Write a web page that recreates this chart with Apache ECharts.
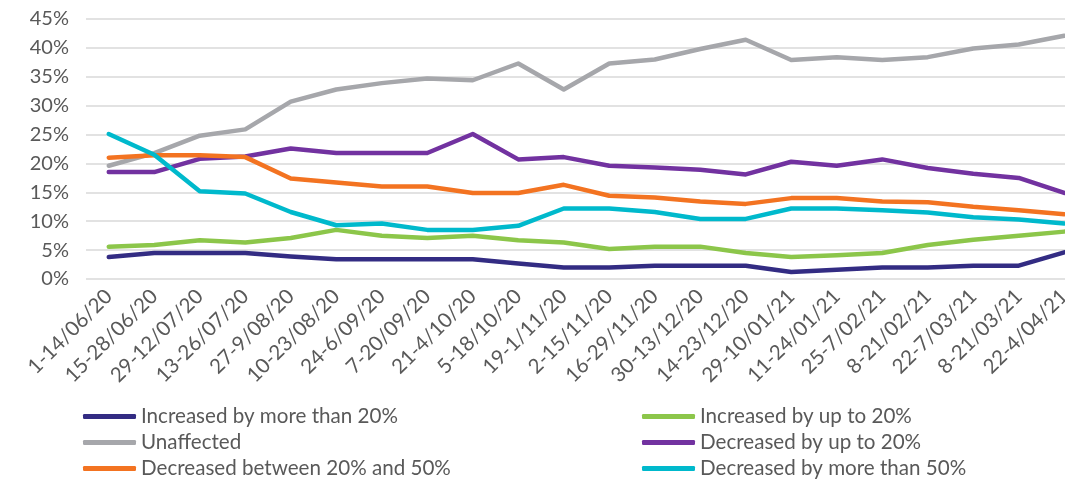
<!DOCTYPE html>
<html>
<head>
<meta charset="utf-8">
<script src="https://cdn.jsdelivr.net/npm/echarts@6/dist/echarts.min.js"></script>
<style>
  html, body { margin: 0; padding: 0; background: #fff; overflow: hidden; }
  /* wider than the window: the last band is cut off like in the source */
  #chart { width: 1087px; height: 479px; }
</style>
</head>
<body>
<div id="chart"></div>
<script>
var periods = [
  "1-14/06/20", "15-28/06/20", "29-12/07/20", "13-26/07/20", "27-9/08/20",
  "10-23/08/20", "24-6/09/20", "7-20/09/20", "21-4/10/20", "5-18/10/20",
  "19-1/11/20", "2-15/11/20", "16-29/11/20", "30-13/12/20", "14-23/12/20",
  "29-10/01/21", "11-24/01/21", "25-7/02/21", "8-21/02/21", "22-7/03/21",
  "8-21/03/21", "22-4/04/21"
];

var incMore20 = [3.8, 4.5, 4.5, 4.5, 3.9, 3.4, 3.4, 3.4, 3.4, 2.7, 2.0, 2.0, 2.3, 2.3, 2.3, 1.2, 1.6, 2.0, 2.0, 2.3, 2.3, 4.6];
var incUpTo20 = [5.6, 5.9, 6.7, 6.3, 7.1, 8.5, 7.5, 7.1, 7.5, 6.7, 6.3, 5.2, 5.6, 5.6, 4.5, 3.8, 4.1, 4.5, 5.9, 6.8, 7.5, 8.2];
var unaffected = [19.6, 21.8, 24.8, 25.9, 30.7, 32.8, 33.9, 34.7, 34.4, 37.3, 32.8, 37.3, 38.0, 39.8, 41.4, 37.9, 38.4, 37.9, 38.4, 39.9, 40.6, 42.1];
var decUpTo20 = [18.5, 18.5, 20.8, 21.2, 22.6, 21.8, 21.8, 21.8, 25.1, 20.7, 21.1, 19.6, 19.3, 18.9, 18.1, 20.3, 19.6, 20.7, 19.2, 18.2, 17.5, 14.9];
var dec20to50 = [21.0, 21.4, 21.4, 21.1, 17.4, 16.7, 16.0, 16.0, 14.9, 14.9, 16.3, 14.4, 14.1, 13.4, 13.0, 14.0, 14.0, 13.4, 13.3, 12.5, 11.9, 11.2];
var decMore50 = [25.1, 21.5, 15.2, 14.8, 11.6, 9.3, 9.6, 8.5, 8.5, 9.2, 12.2, 12.2, 11.6, 10.4, 10.4, 12.2, 12.2, 11.9, 11.5, 10.7, 10.3, 9.6];

var yTicks = [0, 5, 10, 15, 20, 25, 30, 35, 40, 45];

var seriesNames = [
  "Increased by more than 20%", "Increased by up to 20%", "Unaffected",
  "Decreased by up to 20%", "Decreased between 20% and 50%", "Decreased by more than 50%"
];
var seriesData = [incMore20, incUpTo20, unaffected, decUpTo20, dec20to50, decMore50];
var seriesColors = ["#332c83", "#8cc64a", "#a6a7ab", "#7232a0", "#f37321", "#00b9cc"];

var textColor = "#595959";
var fontFam = "Lato, 'Open Sans', sans-serif";

var legendBase = {
  orient: "vertical",
  top: 406,
  itemWidth: 53,
  itemHeight: 5,
  itemGap: 5,
  icon: "roundRect",
  padding: 0,
  textStyle: { color: textColor, fontSize: 20.6, fontFamily: fontFam, lineHeight: 20 }
};

var option = {
  backgroundColor: "#fff",
  animation: false,
  legend: [
    Object.assign({}, legendBase, { left: 83, data: [seriesNames[0], seriesNames[2], seriesNames[4]] }),
    Object.assign({}, legendBase, { left: 642, data: [seriesNames[1], seriesNames[3], seriesNames[5]] })
  ],
  grid: {
    left: 86,
    top: 19,
    right: 0,
    height: 260,
    containLabel: false
  },
  xAxis: {
    type: "category",
    data: periods,
    boundaryGap: true,
    axisTick: { show: false },
    axisLine: { show: false },
    axisLabel: {
      interval: 0,
      rotate: 45,
      margin: 14,
      color: textColor,
      fontSize: 20.5,
      fontFamily: fontFam
    }
  },
  yAxis: {
    type: "value",
    min: yTicks[0],
    max: yTicks[yTicks.length - 1],
    interval: 5,
    axisTick: { show: false },
    axisLine: { show: false },
    axisLabel: {
      margin: 17,
      color: textColor,
      fontSize: 20,
      fontFamily: fontFam,
      formatter: "{value}%"
    },
    splitLine: {
      show: true,
      lineStyle: { color: "#d9d9d9", width: 1.5 }
    }
  },
  series: seriesNames.map(function (name, i) {
    return {
      name: name,
      type: "line",
      symbol: "none",
      data: seriesData[i],
      color: seriesColors[i],
      lineStyle: { color: seriesColors[i], width: 4.5, cap: "round", join: "round" }
    };
  })
};

var chart = echarts.init(document.getElementById("chart"));
chart.setOption(option);
</script>
</body>
</html>
